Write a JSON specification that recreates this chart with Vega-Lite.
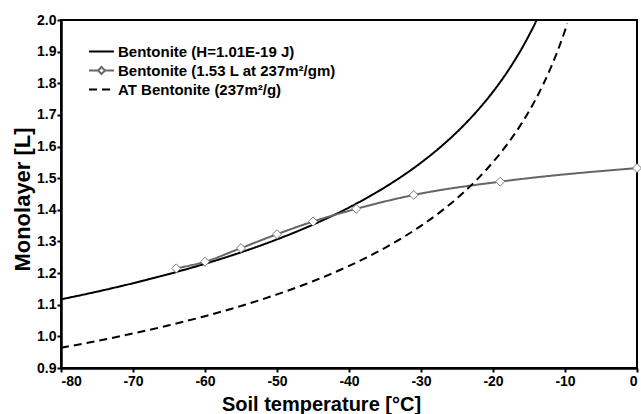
{
  "$schema": "https://vega.github.io/schema/vega-lite/v6.json",
  "width": 576,
  "height": 348,
  "autosize": {"type": "none"},
  "padding": {"left": 61, "top": 20, "right": 4, "bottom": 46},
  "background": "white",
  "config": {
    "font": "Liberation Sans",
    "view": {"stroke": "black", "strokeWidth": 2},
    "axis": {
      "grid": false,
      "domainColor": "black",
      "domainWidth": 2.5,
      "tickColor": "black",
      "tickWidth": 2,
      "tickSize": 4,
      "labelFont": "Liberation Sans",
      "labelFontWeight": "bold",
      "labelFontSize": 14,
      "labelColor": "black",
      "titleFont": "Liberation Sans",
      "titleFontWeight": "bold",
      "titleColor": "black"
    }
  },
  "data": {
    "values": [
      {"s": "Bentonite (H=1.01E-19 J)", "t": -80, "m": 1.117},
      {"s": "Bentonite (H=1.01E-19 J)", "t": -75, "m": 1.1413},
      {"s": "Bentonite (H=1.01E-19 J)", "t": -70, "m": 1.1679},
      {"s": "Bentonite (H=1.01E-19 J)", "t": -65, "m": 1.1971},
      {"s": "Bentonite (H=1.01E-19 J)", "t": -60, "m": 1.2294},
      {"s": "Bentonite (H=1.01E-19 J)", "t": -55, "m": 1.2656},
      {"s": "Bentonite (H=1.01E-19 J)", "t": -50, "m": 1.3065},
      {"s": "Bentonite (H=1.01E-19 J)", "t": -45, "m": 1.3532},
      {"s": "Bentonite (H=1.01E-19 J)", "t": -40, "m": 1.4073},
      {"s": "Bentonite (H=1.01E-19 J)", "t": -35, "m": 1.4714},
      {"s": "Bentonite (H=1.01E-19 J)", "t": -30, "m": 1.549},
      {"s": "Bentonite (H=1.01E-19 J)", "t": -27, "m": 1.6043},
      {"s": "Bentonite (H=1.01E-19 J)", "t": -24, "m": 1.6686},
      {"s": "Bentonite (H=1.01E-19 J)", "t": -22, "m": 1.7177},
      {"s": "Bentonite (H=1.01E-19 J)", "t": -20, "m": 1.7731},
      {"s": "Bentonite (H=1.01E-19 J)", "t": -18, "m": 1.8365},
      {"s": "Bentonite (H=1.01E-19 J)", "t": -16, "m": 1.9101},
      {"s": "Bentonite (H=1.01E-19 J)", "t": -15, "m": 1.9516},
      {"s": "Bentonite (H=1.01E-19 J)", "t": -14, "m": 1.997},
      {"s": "Bentonite (H=1.01E-19 J)", "t": -13.94, "m": 2.0},
      {"s": "Bentonite (1.53 L at 237m²/gm)", "t": -64, "m": 1.215},
      {"s": "Bentonite (1.53 L at 237m²/gm)", "t": -60, "m": 1.236},
      {"s": "Bentonite (1.53 L at 237m²/gm)", "t": -55, "m": 1.279},
      {"s": "Bentonite (1.53 L at 237m²/gm)", "t": -50, "m": 1.323},
      {"s": "Bentonite (1.53 L at 237m²/gm)", "t": -45, "m": 1.363},
      {"s": "Bentonite (1.53 L at 237m²/gm)", "t": -39, "m": 1.403},
      {"s": "Bentonite (1.53 L at 237m²/gm)", "t": -31, "m": 1.447},
      {"s": "Bentonite (1.53 L at 237m²/gm)", "t": -19, "m": 1.489},
      {"s": "Bentonite (1.53 L at 237m²/gm)", "t": 0, "m": 1.532},
      {"s": "AT Bentonite (237m²/g)", "t": -80, "m": 0.9639},
      {"s": "AT Bentonite (237m²/g)", "t": -75, "m": 0.9855},
      {"s": "AT Bentonite (237m²/g)", "t": -70, "m": 1.0091},
      {"s": "AT Bentonite (237m²/g)", "t": -65, "m": 1.0351},
      {"s": "AT Bentonite (237m²/g)", "t": -60, "m": 1.0638},
      {"s": "AT Bentonite (237m²/g)", "t": -55, "m": 1.0961},
      {"s": "AT Bentonite (237m²/g)", "t": -50, "m": 1.1326},
      {"s": "AT Bentonite (237m²/g)", "t": -45, "m": 1.1742},
      {"s": "AT Bentonite (237m²/g)", "t": -40, "m": 1.2226},
      {"s": "AT Bentonite (237m²/g)", "t": -35, "m": 1.2799},
      {"s": "AT Bentonite (237m²/g)", "t": -30, "m": 1.3494},
      {"s": "AT Bentonite (237m²/g)", "t": -27, "m": 1.399},
      {"s": "AT Bentonite (237m²/g)", "t": -24, "m": 1.4567},
      {"s": "AT Bentonite (237m²/g)", "t": -21, "m": 1.525},
      {"s": "AT Bentonite (237m²/g)", "t": -18, "m": 1.6078},
      {"s": "AT Bentonite (237m²/g)", "t": -16, "m": 1.6741},
      {"s": "AT Bentonite (237m²/g)", "t": -14, "m": 1.7525},
      {"s": "AT Bentonite (237m²/g)", "t": -12, "m": 1.8478},
      {"s": "AT Bentonite (237m²/g)", "t": -11, "m": 1.9036},
      {"s": "AT Bentonite (237m²/g)", "t": -10, "m": 1.9669},
      {"s": "AT Bentonite (237m²/g)", "t": -9.68, "m": 1.9891}
    ]
  },
  "encoding": {
    "x": {
      "field": "t",
      "type": "quantitative",
      "scale": {"domain": [-80, 0], "nice": false, "zero": false},
      "axis": {
        "title": "Soil temperature [°C]",
        "values": [-80, -70, -60, -50, -40, -30, -20, -10, 0],
        "labelExpr": "datum.value < 0 ? '-' + format(-datum.value, 'd') : '0'",
        "labelFontWeight": "bold",
        "labelFontSize": 14,
        "labelPadding": 2,
        "titleFontSize": 20,
        "titleX": 260,
        "titleY": 42,
        "titleBaseline": "alphabetic",
        "titleAlign": "center"
      }
    },
    "y": {
      "field": "m",
      "type": "quantitative",
      "scale": {"domain": [0.9, 2.0], "nice": false, "zero": false},
      "axis": {
        "title": "Monolayer [L]",
        "values": [0.9, 1.0, 1.1, 1.2, 1.3, 1.4, 1.5, 1.6, 1.7, 1.8, 1.9, 2.0],
        "format": ".1f",
        "labelFontWeight": "bold",
        "labelFontSize": 14,
        "labelPadding": 1,
        "titleFontSize": 22,
        "titleX": -32,
        "titleY": 179,
        "titleAngle": 270,
        "titleBaseline": "alphabetic",
        "titleAlign": "center"
      }
    }
  },
  "layer": [
    {
      "mark": {"type": "line", "interpolate": "monotone", "strokeWidth": 2},
      "encoding": {
        "detail": {"field": "s"},
        "color": {
          "field": "s",
          "type": "nominal",
          "sort": null,
          "scale": {
            "domain": ["Bentonite (H=1.01E-19 J)", "Bentonite (1.53 L at 237m²/gm)", "AT Bentonite (237m²/g)"],
            "range": ["black", "#666666", "black"]
          },
          "legend": {
            "title": null,
            "orient": "none",
            "legendX": 33,
            "legendY": 24,
            "padding": 0,
            "rowPadding": 3,
            "labelFont": "Liberation Sans",
            "labelFontWeight": "bold",
            "labelFontSize": 15,
            "labelColor": "black",
            "labelLimit": 400,
            "labelOffset": 9,
            "symbolSize": 156,
            "symbolStrokeWidth": 2,
            "encode": {
              "symbols": {
                "update": {
                  "shape": {"signal": "datum.value === 'Bentonite (1.53 L at 237m²/gm)' ? 'M-2,0L-0.56,0M0.56,0L2,0M0,-0.56L0.56,0L0,0.56L-0.56,0Z' : 'M-2,0L2,0'"}
                }
              }
            }
          }
        },
        "strokeDash": {
          "field": "s",
          "type": "nominal",
          "sort": null,
          "scale": {
            "domain": ["Bentonite (H=1.01E-19 J)", "Bentonite (1.53 L at 237m²/gm)", "AT Bentonite (237m²/g)"],
            "range": [[1, 0], [1, 0], [8, 5]]
          },
          "legend": {
            "title": null,
            "orient": "none",
            "legendX": 33,
            "legendY": 24,
            "padding": 0,
            "rowPadding": 3,
            "labelFont": "Liberation Sans",
            "labelFontWeight": "bold",
            "labelFontSize": 15,
            "labelColor": "black",
            "labelLimit": 400,
            "labelOffset": 9,
            "symbolSize": 156,
            "symbolStrokeWidth": 2,
            "encode": {
              "symbols": {
                "update": {
                  "shape": {"signal": "datum.value === 'Bentonite (1.53 L at 237m²/gm)' ? 'M-2,0L-0.56,0M0.56,0L2,0M0,-0.56L0.56,0L0,0.56L-0.56,0Z' : 'M-2,0L2,0'"}
                }
              }
            }
          }
        }
      }
    },
    {
      "transform": [{"filter": "datum.s === 'Bentonite (1.53 L at 237m²/gm)'"}],
      "mark": {"type": "point", "shape": "diamond", "size": 80, "filled": true, "fill": "white", "stroke": "#7a7a7a", "strokeWidth": 1, "opacity": 1}
    }
  ]
}
